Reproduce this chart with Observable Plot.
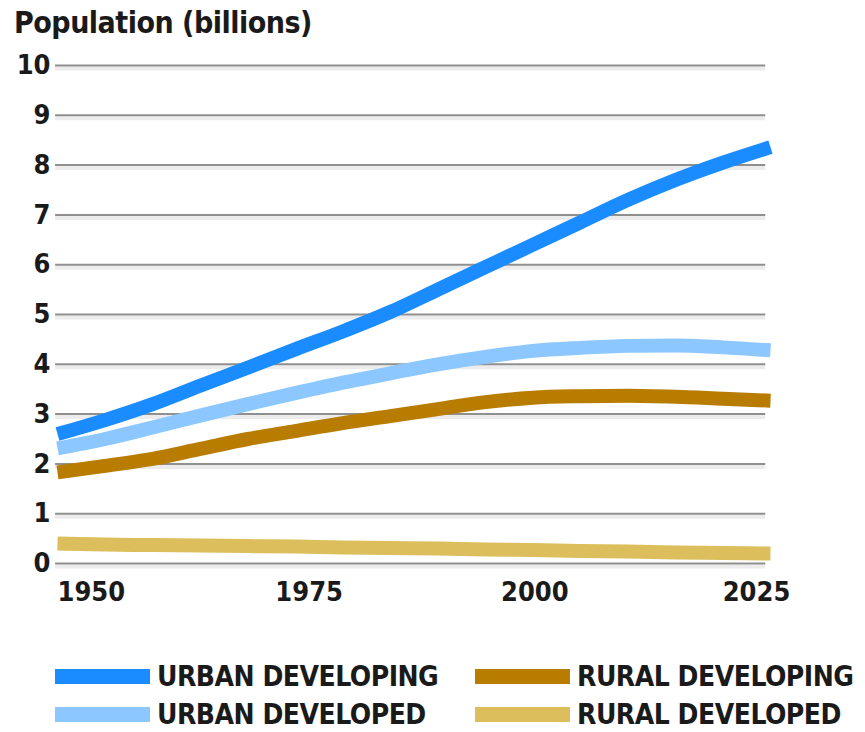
<!DOCTYPE html>
<html><head><meta charset="utf-8">
<script src="https://cdn.jsdelivr.net/npm/d3@7"></script>
<script src="https://cdn.jsdelivr.net/npm/@observablehq/plot@0.6"></script>
<style>
body{margin:0;background:#fff;font-family:"DejaVu Sans Condensed","Liberation Sans Narrow","Liberation Sans",sans-serif;font-stretch:condensed;}
#title{height:50px;padding-left:14px;font-weight:bold;font-size:30px;line-height:46px;color:#1a1a1a;letter-spacing:-0.5px;}
#legend{position:relative;height:119px;}
.item{position:absolute;display:flex;align-items:center;font-weight:bold;font-size:28px;color:#1a1a1a;letter-spacing:-0.5px;}
.sw{width:95px;height:15px;margin-right:7px;}
</style></head><body>
<div id="title">Population (billions)</div>
<div id="chart"></div>
<div id="legend"></div>
<script>
const years = [1950,1955,1960,1965,1970,1975,1980,1985,1990,1995,2000,2005,2010,2015,2020,2025];
const urbanDeveloping = [2.6,2.88,3.2,3.57,3.93,4.3,4.66,5.05,5.5,5.95,6.4,6.85,7.3,7.7,8.05,8.36];
const urbanDeveloped  = [2.31,2.5,2.73,2.97,3.2,3.42,3.63,3.82,4.0,4.15,4.27,4.33,4.37,4.38,4.34,4.28];
const ruralDeveloping = [1.83,1.96,2.1,2.3,2.5,2.66,2.82,2.96,3.1,3.24,3.33,3.36,3.37,3.35,3.31,3.27];
const ruralDeveloped  = [0.40,0.38,0.37,0.36,0.35,0.34,0.32,0.31,0.30,0.28,0.27,0.25,0.24,0.22,0.21,0.20];
const seriesNames = ["URBAN DEVELOPING","URBAN DEVELOPED","RURAL DEVELOPING","RURAL DEVELOPED"];
const seriesColors = ["#1a8cff","#8cc8ff","#b87c00","#dcbf5c"];
const yTicks = [0,1,2,3,4,5,6,7,8,9,10];
const xTicks = [1950,1975,2000,2025];

const allSeries = [urbanDeveloping, urbanDeveloped, ruralDeveloping, ruralDeveloped];
const data = [];
allSeries.forEach((vals, i) => vals.forEach((v, j) => data.push({year: years[j], value: v, series: seriesNames[i]})));
const order = [3,2,1,0];

const font = '"DejaVu Sans Condensed","Liberation Sans Narrow","Liberation Sans",sans-serif';
const tickStyle = {tickSize: 0, fontSize: 27, fontWeight: "bold", fill: "#1a1a1a", label: null, tickFormat: d => String(d)};
const chart = Plot.plot({
  width: 865, height: 563,
  marginTop: 15, marginBottom: 50, marginLeft: 57, marginRight: 95,
  style: {fontFamily: font, background: "#fff"},
  x: {domain: [1950, 2025], axis: null},
  y: {domain: [0, 10], axis: null},
  marks: [
    Plot.ruleY(yTicks, {y: d => d, dy: 3, x1: 1949.8, x2: 2024.5, stroke: "#ececec", strokeWidth: 4}),
    Plot.ruleY(yTicks, {y: d => d, x1: 1949.8, x2: 2024.5, stroke: "#8f8f8f", strokeWidth: 2}),
    Plot.axisY(yTicks, {...tickStyle, tickPadding: 7}),
    Plot.axisX([xTicks[0]], {...tickStyle, tickPadding: 18, textAnchor: "start"}),
    Plot.axisX([xTicks[1]], {...tickStyle, tickPadding: 18, dx: 14}),
    Plot.axisX([xTicks[2]], {...tickStyle, tickPadding: 18, dx: 2}),
    Plot.axisX([xTicks[3]], {...tickStyle, tickPadding: 18, dx: -14}),
    ...order.map(i => Plot.line(data.filter(d => d.series === seriesNames[i]), {
      x: "year", y: "value", stroke: seriesColors[i], strokeWidth: 14, curve: "monotone-x", strokeLinecap: "butt"
    }))
  ]
});
document.getElementById("chart").appendChild(chart);

const legend = document.getElementById("legend");
const pos = [[55, 67], [55, 105], [475, 67], [475, 105]];
seriesNames.forEach((n, i) => {
  const el = document.createElement("div");
  el.className = "item";
  el.style.left = pos[i][0] + "px";
  el.style.top = (pos[i][1] - 20) + "px";
  el.innerHTML = `<div class="sw" style="background:${seriesColors[i]}"></div><span>${n}</span>`;
  legend.appendChild(el);
});
</script>
</body></html>
